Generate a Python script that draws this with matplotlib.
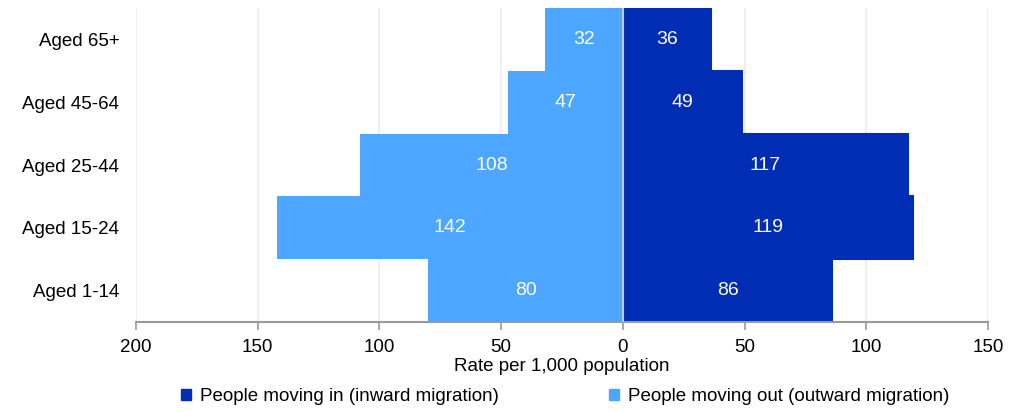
from matplotlib import pyplot as plt
import matplotlib
from matplotlib.patches import Patch

matplotlib.rcParams['font.family'] = ['Liberation Sans', 'DejaVu Sans']

ages = ['Aged 1-14', 'Aged 15-24', 'Aged 25-44', 'Aged 45-64', 'Aged 65+']
moving_in = [86, 119, 117, 49, 36]
moving_out = [80, 142, 108, 47, 32]
tick_vals = [-200, -150, -100, -50, 0, 50, 100, 150]
tick_labels = ['200', '150', '100', '50', '0', '50', '100', '150']

dark = '#002db3'
light = '#4da6ff'
fs = 13.5

fig = plt.figure(figsize=(10.26, 4.12), dpi=100)
ax = fig.add_axes([0.1326, 0.2184, 0.963 - 0.1326, 0.9806 - 0.2184])

y = range(len(ages))
ax.barh(y, [-v for v in moving_out], height=1.0, color=light, zorder=2)
ax.barh(y, moving_in, height=1.0, color=dark, edgecolor=dark, linewidth=1.5, zorder=2)

for i in y:
    ax.text(-moving_out[i] / 2, i, str(moving_out[i]), color='white',
            ha='center', va='center', fontsize=fs + 0.5, zorder=4)
    ax.text(moving_in[i] / 2, i, str(moving_in[i]), color='white',
            ha='center', va='center', fontsize=fs + 0.5, zorder=4)

ax.axvline(0, color='#c8c8c8', linewidth=1.5, zorder=3)

ax.set_xlim(-200, 150)
ax.set_ylim(-0.5, len(ages) - 0.5)
ax.set_xticks(tick_vals)
ax.set_xticklabels(tick_labels, fontsize=fs)
ax.set_yticks(list(y))
ax.set_yticklabels(ages, fontsize=fs)
ax.tick_params(axis='y', length=0, pad=12)
ax.tick_params(axis='x', length=6, width=1.2, color='#999999', pad=6)
ax.xaxis.grid(True, color='#ececec', linewidth=1.2, zorder=0)
ax.set_axisbelow(True)

for s in ['top', 'right', 'left']:
    ax.spines[s].set_visible(False)
ax.spines['bottom'].set_color('#999999')
ax.spines['bottom'].set_linewidth(1.5)

ax.set_xlabel('Rate per 1,000 population', fontsize=fs, labelpad=2)

handles = [Patch(color=dark, label='People moving in (inward migration)'),
           Patch(color=light, label='People moving out (outward migration)')]
fig.legend(handles=handles, loc='center', bbox_to_anchor=(0.551, 0.038), ncol=2,
           frameon=False, fontsize=fs, handlelength=0.53, handleheight=0.53,
           handletextpad=0.48, columnspacing=5.9)

plt.savefig('out.png', dpi=100)
